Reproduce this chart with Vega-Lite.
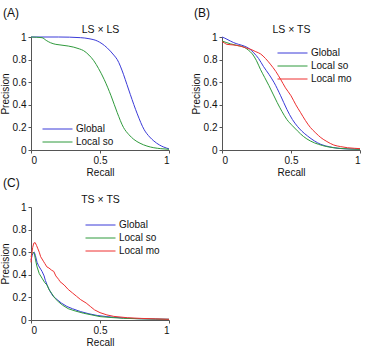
{
  "$schema": "https://vega.github.io/schema/vega-lite/v6.json",
  "padding": {"left": 0, "top": 7, "right": 0, "bottom": 0},
  "background": "white",
  "config": {
    "font": "Liberation Sans",
    "view": {"stroke": null},
    "axis": {"grid": false, "domainColor": "#555555", "tickColor": "#555555", "tickSize": 3, "labelFontSize": 10, "labelColor": "#111111", "titleFontSize": 10, "titleFontWeight": "normal", "titleColor": "#111111", "labelPadding": 2, "titlePadding": 2},
    "legend": {"labelFontSize": 10, "labelColor": "#111111", "padding": 0, "rowPadding": 3, "symbolType": "M-3.75,0H3.75", "symbolSize": 64, "symbolStrokeWidth": 1, "labelOffset": 13.5},
    "title": {"fontSize": 12, "fontWeight": "normal", "anchor": "start", "frame": "bounds", "offset": 4, "dx": 3, "color": "#111111"}
  },
  "datasets": {
    "A": [
      {"recall": 0, "precision": 1, "series": "Global"},
      {"recall": 0.2, "precision": 1, "series": "Global"},
      {"recall": 0.36, "precision": 0.994, "series": "Global"},
      {"recall": 0.42, "precision": 0.985, "series": "Global"},
      {"recall": 0.48, "precision": 0.965, "series": "Global"},
      {"recall": 0.55, "precision": 0.906, "series": "Global"},
      {"recall": 0.6, "precision": 0.84, "series": "Global"},
      {"recall": 0.625, "precision": 0.8, "series": "Global"},
      {"recall": 0.67, "precision": 0.67, "series": "Global"},
      {"recall": 0.695, "precision": 0.58, "series": "Global"},
      {"recall": 0.72, "precision": 0.49, "series": "Global"},
      {"recall": 0.77, "precision": 0.32, "series": "Global"},
      {"recall": 0.82, "precision": 0.18, "series": "Global"},
      {"recall": 0.86, "precision": 0.115, "series": "Global"},
      {"recall": 0.89, "precision": 0.08, "series": "Global"},
      {"recall": 0.93, "precision": 0.045, "series": "Global"},
      {"recall": 0.96, "precision": 0.027, "series": "Global"},
      {"recall": 1, "precision": 0.01, "series": "Global"},
      {"recall": 0, "precision": 1, "series": "Local so"},
      {"recall": 0.08, "precision": 0.994, "series": "Local so"},
      {"recall": 0.11, "precision": 0.97, "series": "Local so"},
      {"recall": 0.14, "precision": 0.95, "series": "Local so"},
      {"recall": 0.18, "precision": 0.935, "series": "Local so"},
      {"recall": 0.21, "precision": 0.93, "series": "Local so"},
      {"recall": 0.27, "precision": 0.92, "series": "Local so"},
      {"recall": 0.31, "precision": 0.91, "series": "Local so"},
      {"recall": 0.35, "precision": 0.895, "series": "Local so"},
      {"recall": 0.38, "precision": 0.88, "series": "Local so"},
      {"recall": 0.42, "precision": 0.84, "series": "Local so"},
      {"recall": 0.455, "precision": 0.79, "series": "Local so"},
      {"recall": 0.49, "precision": 0.72, "series": "Local so"},
      {"recall": 0.53, "precision": 0.625, "series": "Local so"},
      {"recall": 0.58, "precision": 0.48, "series": "Local so"},
      {"recall": 0.625, "precision": 0.33, "series": "Local so"},
      {"recall": 0.67, "precision": 0.2, "series": "Local so"},
      {"recall": 0.71, "precision": 0.135, "series": "Local so"},
      {"recall": 0.745, "precision": 0.094, "series": "Local so"},
      {"recall": 0.79, "precision": 0.06, "series": "Local so"},
      {"recall": 0.84, "precision": 0.035, "series": "Local so"},
      {"recall": 0.89, "precision": 0.02, "series": "Local so"},
      {"recall": 0.94, "precision": 0.012, "series": "Local so"},
      {"recall": 1, "precision": 0.006, "series": "Local so"}
    ],
    "B": [
      {"recall": 0, "precision": 1.0, "series": "Global"},
      {"recall": 0.02, "precision": 0.99, "series": "Global"},
      {"recall": 0.036, "precision": 0.98, "series": "Global"},
      {"recall": 0.06, "precision": 0.965, "series": "Global"},
      {"recall": 0.085, "precision": 0.95, "series": "Global"},
      {"recall": 0.12, "precision": 0.935, "series": "Global"},
      {"recall": 0.16, "precision": 0.92, "series": "Global"},
      {"recall": 0.2, "precision": 0.895, "series": "Global"},
      {"recall": 0.23, "precision": 0.86, "series": "Global"},
      {"recall": 0.265, "precision": 0.81, "series": "Global"},
      {"recall": 0.3, "precision": 0.74, "series": "Global"},
      {"recall": 0.34, "precision": 0.67, "series": "Global"},
      {"recall": 0.376, "precision": 0.6, "series": "Global"},
      {"recall": 0.425, "precision": 0.48, "series": "Global"},
      {"recall": 0.47, "precision": 0.36, "series": "Global"},
      {"recall": 0.51, "precision": 0.27, "series": "Global"},
      {"recall": 0.546, "precision": 0.21, "series": "Global"},
      {"recall": 0.58, "precision": 0.165, "series": "Global"},
      {"recall": 0.62, "precision": 0.124, "series": "Global"},
      {"recall": 0.67, "precision": 0.08, "series": "Global"},
      {"recall": 0.716, "precision": 0.05, "series": "Global"},
      {"recall": 0.78, "precision": 0.028, "series": "Global"},
      {"recall": 0.84, "precision": 0.015, "series": "Global"},
      {"recall": 0.92, "precision": 0.009, "series": "Global"},
      {"recall": 1, "precision": 0.006, "series": "Global"},
      {"recall": 0, "precision": 0.965, "series": "Local so"},
      {"recall": 0.06, "precision": 0.94, "series": "Local so"},
      {"recall": 0.11, "precision": 0.925, "series": "Local so"},
      {"recall": 0.16, "precision": 0.91, "series": "Local so"},
      {"recall": 0.19, "precision": 0.885, "series": "Local so"},
      {"recall": 0.22, "precision": 0.85, "series": "Local so"},
      {"recall": 0.25, "precision": 0.79, "series": "Local so"},
      {"recall": 0.28, "precision": 0.71, "series": "Local so"},
      {"recall": 0.31, "precision": 0.64, "series": "Local so"},
      {"recall": 0.34, "precision": 0.57, "series": "Local so"},
      {"recall": 0.37, "precision": 0.495, "series": "Local so"},
      {"recall": 0.4, "precision": 0.42, "series": "Local so"},
      {"recall": 0.435, "precision": 0.34, "series": "Local so"},
      {"recall": 0.47, "precision": 0.27, "series": "Local so"},
      {"recall": 0.51, "precision": 0.215, "series": "Local so"},
      {"recall": 0.546, "precision": 0.17, "series": "Local so"},
      {"recall": 0.59, "precision": 0.12, "series": "Local so"},
      {"recall": 0.64, "precision": 0.08, "series": "Local so"},
      {"recall": 0.7, "precision": 0.05, "series": "Local so"},
      {"recall": 0.76, "precision": 0.03, "series": "Local so"},
      {"recall": 0.85, "precision": 0.015, "series": "Local so"},
      {"recall": 0.92, "precision": 0.009, "series": "Local so"},
      {"recall": 1, "precision": 0.006, "series": "Local so"},
      {"recall": 0, "precision": 0.96, "series": "Local mo"},
      {"recall": 0.02, "precision": 0.945, "series": "Local mo"},
      {"recall": 0.036, "precision": 0.935, "series": "Local mo"},
      {"recall": 0.08, "precision": 0.93, "series": "Local mo"},
      {"recall": 0.13, "precision": 0.92, "series": "Local mo"},
      {"recall": 0.17, "precision": 0.905, "series": "Local mo"},
      {"recall": 0.21, "precision": 0.89, "series": "Local mo"},
      {"recall": 0.245, "precision": 0.87, "series": "Local mo"},
      {"recall": 0.28, "precision": 0.85, "series": "Local mo"},
      {"recall": 0.315, "precision": 0.81, "series": "Local mo"},
      {"recall": 0.35, "precision": 0.76, "series": "Local mo"},
      {"recall": 0.39, "precision": 0.695, "series": "Local mo"},
      {"recall": 0.425, "precision": 0.625, "series": "Local mo"},
      {"recall": 0.46, "precision": 0.55, "series": "Local mo"},
      {"recall": 0.5, "precision": 0.48, "series": "Local mo"},
      {"recall": 0.535, "precision": 0.4, "series": "Local mo"},
      {"recall": 0.57, "precision": 0.33, "series": "Local mo"},
      {"recall": 0.605, "precision": 0.26, "series": "Local mo"},
      {"recall": 0.64, "precision": 0.2, "series": "Local mo"},
      {"recall": 0.68, "precision": 0.15, "series": "Local mo"},
      {"recall": 0.716, "precision": 0.11, "series": "Local mo"},
      {"recall": 0.76, "precision": 0.075, "series": "Local mo"},
      {"recall": 0.81, "precision": 0.044, "series": "Local mo"},
      {"recall": 0.86, "precision": 0.03, "series": "Local mo"},
      {"recall": 0.91, "precision": 0.02, "series": "Local mo"},
      {"recall": 0.96, "precision": 0.015, "series": "Local mo"},
      {"recall": 1, "precision": 0.012, "series": "Local mo"}
    ],
    "C": [
      {"recall": 0, "precision": 0.53, "series": "Global"},
      {"recall": 0.008, "precision": 0.57, "series": "Global"},
      {"recall": 0.015, "precision": 0.59, "series": "Global"},
      {"recall": 0.024, "precision": 0.6, "series": "Global"},
      {"recall": 0.032, "precision": 0.57, "series": "Global"},
      {"recall": 0.044, "precision": 0.51, "series": "Global"},
      {"recall": 0.055, "precision": 0.48, "series": "Global"},
      {"recall": 0.07, "precision": 0.45, "series": "Global"},
      {"recall": 0.08, "precision": 0.43, "series": "Global"},
      {"recall": 0.095, "precision": 0.39, "series": "Global"},
      {"recall": 0.104, "precision": 0.35, "series": "Global"},
      {"recall": 0.12, "precision": 0.3, "series": "Global"},
      {"recall": 0.14, "precision": 0.25, "series": "Global"},
      {"recall": 0.16, "precision": 0.21, "series": "Global"},
      {"recall": 0.19, "precision": 0.18, "series": "Global"},
      {"recall": 0.22, "precision": 0.15, "series": "Global"},
      {"recall": 0.26, "precision": 0.12, "series": "Global"},
      {"recall": 0.3, "precision": 0.1, "series": "Global"},
      {"recall": 0.36, "precision": 0.074, "series": "Global"},
      {"recall": 0.42, "precision": 0.055, "series": "Global"},
      {"recall": 0.48, "precision": 0.04, "series": "Global"},
      {"recall": 0.55, "precision": 0.03, "series": "Global"},
      {"recall": 0.6, "precision": 0.024, "series": "Global"},
      {"recall": 0.7, "precision": 0.016, "series": "Global"},
      {"recall": 0.77, "precision": 0.012, "series": "Global"},
      {"recall": 0.9, "precision": 0.008, "series": "Global"},
      {"recall": 1, "precision": 0.006, "series": "Global"},
      {"recall": 0, "precision": 0.56, "series": "Local so"},
      {"recall": 0.008, "precision": 0.59, "series": "Local so"},
      {"recall": 0.015, "precision": 0.6, "series": "Local so"},
      {"recall": 0.024, "precision": 0.59, "series": "Local so"},
      {"recall": 0.033, "precision": 0.53, "series": "Local so"},
      {"recall": 0.044, "precision": 0.47, "series": "Local so"},
      {"recall": 0.06, "precision": 0.41, "series": "Local so"},
      {"recall": 0.08, "precision": 0.37, "series": "Local so"},
      {"recall": 0.1, "precision": 0.33, "series": "Local so"},
      {"recall": 0.116, "precision": 0.31, "series": "Local so"},
      {"recall": 0.13, "precision": 0.27, "series": "Local so"},
      {"recall": 0.15, "precision": 0.235, "series": "Local so"},
      {"recall": 0.175, "precision": 0.19, "series": "Local so"},
      {"recall": 0.2, "precision": 0.16, "series": "Local so"},
      {"recall": 0.23, "precision": 0.13, "series": "Local so"},
      {"recall": 0.27, "precision": 0.1, "series": "Local so"},
      {"recall": 0.32, "precision": 0.08, "series": "Local so"},
      {"recall": 0.38, "precision": 0.06, "series": "Local so"},
      {"recall": 0.44, "precision": 0.045, "series": "Local so"},
      {"recall": 0.5, "precision": 0.03, "series": "Local so"},
      {"recall": 0.58, "precision": 0.022, "series": "Local so"},
      {"recall": 0.67, "precision": 0.015, "series": "Local so"},
      {"recall": 0.8, "precision": 0.01, "series": "Local so"},
      {"recall": 0.9, "precision": 0.008, "series": "Local so"},
      {"recall": 1, "precision": 0.006, "series": "Local so"},
      {"recall": 0, "precision": 0.51, "series": "Local mo"},
      {"recall": 0.005, "precision": 0.58, "series": "Local mo"},
      {"recall": 0.012, "precision": 0.64, "series": "Local mo"},
      {"recall": 0.02, "precision": 0.68, "series": "Local mo"},
      {"recall": 0.03, "precision": 0.685, "series": "Local mo"},
      {"recall": 0.04, "precision": 0.66, "series": "Local mo"},
      {"recall": 0.05, "precision": 0.63, "series": "Local mo"},
      {"recall": 0.06, "precision": 0.6, "series": "Local mo"},
      {"recall": 0.07, "precision": 0.56, "series": "Local mo"},
      {"recall": 0.08, "precision": 0.54, "series": "Local mo"},
      {"recall": 0.09, "precision": 0.52, "series": "Local mo"},
      {"recall": 0.1, "precision": 0.5, "series": "Local mo"},
      {"recall": 0.115, "precision": 0.47, "series": "Local mo"},
      {"recall": 0.13, "precision": 0.46, "series": "Local mo"},
      {"recall": 0.15, "precision": 0.44, "series": "Local mo"},
      {"recall": 0.165, "precision": 0.43, "series": "Local mo"},
      {"recall": 0.18, "precision": 0.39, "series": "Local mo"},
      {"recall": 0.2, "precision": 0.36, "series": "Local mo"},
      {"recall": 0.21, "precision": 0.34, "series": "Local mo"},
      {"recall": 0.24, "precision": 0.31, "series": "Local mo"},
      {"recall": 0.27, "precision": 0.27, "series": "Local mo"},
      {"recall": 0.3, "precision": 0.24, "series": "Local mo"},
      {"recall": 0.33, "precision": 0.21, "series": "Local mo"},
      {"recall": 0.36, "precision": 0.18, "series": "Local mo"},
      {"recall": 0.4, "precision": 0.15, "series": "Local mo"},
      {"recall": 0.43, "precision": 0.12, "series": "Local mo"},
      {"recall": 0.46, "precision": 0.09, "series": "Local mo"},
      {"recall": 0.5, "precision": 0.065, "series": "Local mo"},
      {"recall": 0.55, "precision": 0.045, "series": "Local mo"},
      {"recall": 0.6, "precision": 0.032, "series": "Local mo"},
      {"recall": 0.7, "precision": 0.02, "series": "Local mo"},
      {"recall": 0.8, "precision": 0.014, "series": "Local mo"},
      {"recall": 0.9, "precision": 0.01, "series": "Local mo"},
      {"recall": 1, "precision": 0.006, "series": "Local mo"}
    ]
  },
  "columns": 2,
  "spacing": {"row": 0, "column": 20},
  "resolve": {"scale": {"color": "independent"}, "legend": {"color": "independent"}},
  "concat": [
    {
      "title": {"text": "(A)"},
      "width": 138, "height": 113,
      "data": {"name": "A"},
      "layer": [
        {
          "mark": {"type": "line", "strokeWidth": 1, "interpolate": "monotone"},
          "encoding": {
            "x": {"field": "recall", "type": "quantitative", "scale": {"domain": [0, 1], "nice": false}, "axis": {"title": "Recall", "values": [0, 0.5, 1], "format": "~g"}},
            "y": {"field": "precision", "type": "quantitative", "scale": {"domain": [0, 1], "nice": false}, "axis": {"title": "Precision", "values": [0, 0.2, 0.4, 0.6, 0.8, 1], "format": "~g"}},
            "color": {"field": "series", "type": "nominal", "scale": {"domain": ["Global", "Local so"], "range": ["#3a3ad8", "#2f9a3c"]}, "legend": {"title": null, "orient": "none", "legendX": 21.5, "legendY": 87}}
          }
        },
        {
          "mark": {"type": "rule", "strokeOpacity": 0},
          "encoding": {
            "x": {"field": "recall", "type": "quantitative", "axis": {"orient": "top", "title": "LS × LS", "labels": false, "ticks": false, "domain": false, "titlePadding": 3, "titleFontSize": 10.5}}
          }
        }
      ],
      "resolve": {"axis": {"x": "independent"}}
    },
    {
      "title": {"text": "(B)"},
      "width": 138, "height": 113,
      "data": {"name": "B"},
      "layer": [
        {
          "mark": {"type": "line", "strokeWidth": 1, "interpolate": "monotone"},
          "encoding": {
            "x": {"field": "recall", "type": "quantitative", "scale": {"domain": [0, 1], "nice": false}, "axis": {"title": "Recall", "values": [0, 0.5, 1], "format": "~g"}},
            "y": {"field": "precision", "type": "quantitative", "scale": {"domain": [0, 1], "nice": false}, "axis": {"title": "Precision", "values": [0, 0.2, 0.4, 0.6, 0.8, 1], "format": "~g"}},
            "color": {"field": "series", "type": "nominal", "sort": ["Global", "Local so", "Local mo"], "scale": {"domain": ["Global", "Local so", "Local mo"], "range": ["#3a3ad8", "#2f9a3c", "#ee3030"]}, "legend": {"title": null, "orient": "none", "legendX": 65.5, "legendY": 11}}
          }
        },
        {
          "mark": {"type": "rule", "strokeOpacity": 0},
          "encoding": {
            "x": {"field": "recall", "type": "quantitative", "axis": {"orient": "top", "title": "LS × TS", "labels": false, "ticks": false, "domain": false, "titlePadding": 3, "titleFontSize": 10.5}}
          }
        }
      ],
      "resolve": {"axis": {"x": "independent"}}
    },
    {
      "title": {"text": "(C)"},
      "width": 138, "height": 113,
      "data": {"name": "C"},
      "layer": [
        {
          "mark": {"type": "line", "strokeWidth": 1},
          "encoding": {
            "x": {"field": "recall", "type": "quantitative", "scale": {"domain": [0, 1], "nice": false}, "axis": {"title": "Recall", "values": [0, 0.5, 1], "format": "~g"}},
            "y": {"field": "precision", "type": "quantitative", "scale": {"domain": [0, 1], "nice": false}, "axis": {"title": "Precision", "values": [0, 0.2, 0.4, 0.6, 0.8, 1], "format": "~g"}},
            "color": {"field": "series", "type": "nominal", "sort": ["Global", "Local so", "Local mo"], "scale": {"domain": ["Global", "Local so", "Local mo"], "range": ["#3a3ad8", "#2f9a3c", "#ee3030"]}, "legend": {"title": null, "orient": "none", "legendX": 64.5, "legendY": 13}}
          }
        },
        {
          "mark": {"type": "rule", "strokeOpacity": 0},
          "encoding": {
            "x": {"field": "recall", "type": "quantitative", "axis": {"orient": "top", "title": "TS × TS", "labels": false, "ticks": false, "domain": false, "titlePadding": 3, "titleFontSize": 10.5}}
          }
        }
      ],
      "resolve": {"axis": {"x": "independent"}}
    }
  ]
}
